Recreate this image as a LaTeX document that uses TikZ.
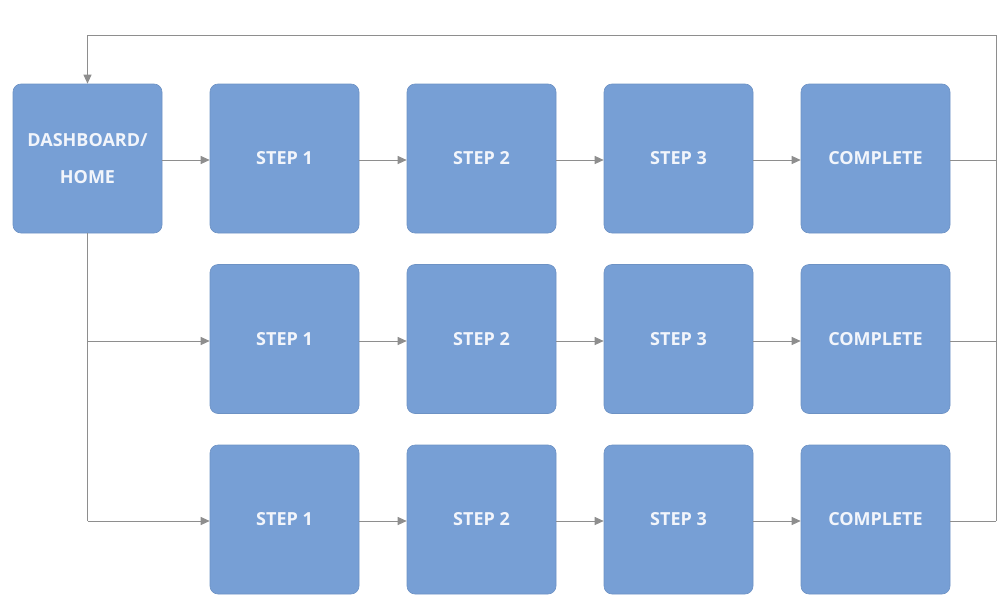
\documentclass[tikz,border=0pt]{standalone}
\usepackage{fontspec}
\setmainfont{Open Sans}
\usetikzlibrary{arrows.meta}
\definecolor{boxblue}{HTML}{779FD5}
\definecolor{linegray}{HTML}{8E8E8E}
\definecolor{txt}{HTML}{F2F5FB}
\begin{document}
\begin{tikzpicture}[x=1pt,y=-1pt,
  stepbox/.style={draw=boxblue!92!black, line width=0.6pt, fill=boxblue, rounded corners=8pt,
    minimum width=149pt, minimum height=149pt, inner sep=0pt,
    text=txt, font=\fontsize{18}{37}\selectfont\bfseries, align=center},
  conn/.style={draw=linegray, line width=1pt},
  arr/.style={conn, -{Triangle[length=9pt,width=8pt]}}]
\useasboundingbox (0,0) rectangle (998,594);
\begin{scope}
\clip (0,0) rectangle (998,594);
\node[stepbox] (home) at (87.5,158.5) {DASHBOARD/\\HOME};
\foreach \r/\y in {1/158.5, 2/339, 3/519.5} {
  \node[stepbox] (s1\r) at (284.5,\y) {STEP 1};
  \node[stepbox] (s2\r) at (481.5,\y) {STEP 2};
  \node[stepbox] (s3\r) at (678.5,\y) {STEP 3};
  \node[stepbox] (c\r) at (875.5,\y) {COMPLETE};
}
\end{scope}
\coordinate (tr) at (996,36);
\coordinate (br) at (996,521);
\coordinate (bl) at (87.5,521);
\coordinate (ml) at (87.5,341);
% row arrows
\draw[arr] (home.east |- 0,160) -- (s11.west |- 0,160);
\foreach \r/\y in {1/160, 2/341, 3/521} {
  \draw[arr] (s1\r.east |- 0,\y) -- (s2\r.west |- 0,\y);
  \draw[arr] (s2\r.east |- 0,\y) -- (s3\r.west |- 0,\y);
  \draw[arr] (s3\r.east |- 0,\y) -- (c\r.west |- 0,\y);
  \draw[conn] (c\r.east |- 0,\y) -- (996,\y);
}
% left branches
\draw[conn] (home.south) -- (bl);
\draw[arr] (ml) -- (s12.west |- ml);
\draw[arr] (bl) -- (s13.west |- bl);
% return loop
\draw[arr] (br) -- (tr) -- (home.north |- tr) -- (home.north);
\end{tikzpicture}
\end{document}
